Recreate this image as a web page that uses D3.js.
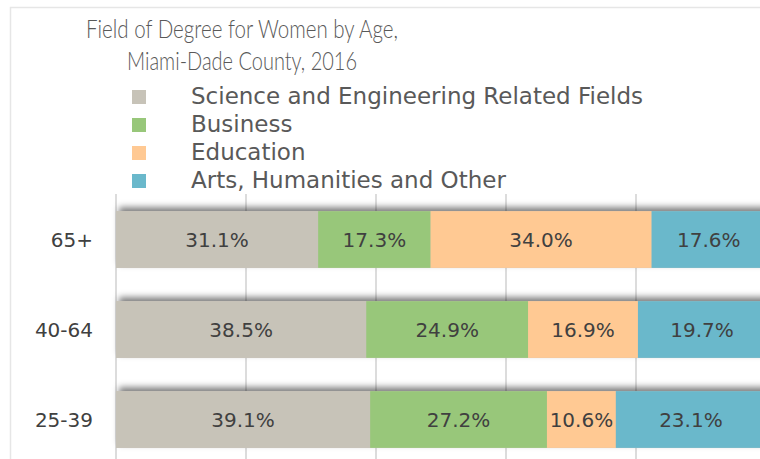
<!DOCTYPE html>
<html>
<head>
<meta charset="utf-8">
<script src="https://cdn.jsdelivr.net/npm/d3@7"></script>
<style>
  body { margin: 0; background: #fff; }
  svg text { font-family: "DejaVu Sans", sans-serif; }
</style>
</head>
<body>
<svg id="grafiek" width="760" height="459"></svg>
<script>
// data
const leeftijden = ["65+", "40-64", "25-39"];
const velden = ["Science and Engineering Related Fields", "Business", "Education", "Arts, Humanities and Other"];
const kleuren = ["#c7c3b8", "#98c77a", "#ffc993", "#6ab8cb"];
const wetenschap = [31.1, 38.5, 39.1];
const business = [17.3, 24.9, 27.2];
const onderwijs = [34.0, 16.9, 10.6];
const kunst = [17.6, 19.7, 23.1];
const gridTicks = [0, 20, 40, 60, 80, 100];
const titel = ["Field of Degree for Women by Age,", "Miami-Dade County, 2016"];
const titelBreedte = [312, 230];

const svg = d3.select("#grafiek");

// rijen bouwen voor de stack
const rijen = leeftijden.map(function (l, i) {
    return { leeftijd: l, 0: wetenschap[i], 1: business[i], 2: onderwijs[i], 3: kunst[i] };
});
const stack = d3.stack().keys([0, 1, 2, 3])(rijen);

//schalen
const x = d3.scaleLinear().domain([0, 100]).range([116, 766]);
const y = d3.scaleBand().domain(leeftijden).range([194.5, 464.5]).paddingInner(0.37).paddingOuter(0.185);

// schaduw filter
const defs = svg.append("defs");
const f = defs.append("filter").attr("id", "schaduw").attr("x", "-5%").attr("y", "-40%").attr("width", "110%").attr("height", "180%");
f.append("feDropShadow").attr("dx", 3).attr("dy", -4).attr("stdDeviation", 3)
    .attr("flood-color", "#000").attr("flood-opacity", 0.5);

// kader
svg.append("rect").attr("x", 10.5).attr("y", 7.5).attr("width", 800).attr("height", 500)
    .attr("fill", "#fff").attr("stroke", "#e6e6e6").attr("stroke-width", 1.5);

// titel (iets samengedrukt zoals het origineel)
svg.append("g").selectAll("text").data(titel).join("text")
    .attr("x", 242).attr("y", function (d, i) { return 38 + i * 32; })
    .attr("text-anchor", "middle").attr("font-size", 26).attr("fill", "#595959")
    .style("font-family", "Lato, 'DejaVu Sans', sans-serif").attr("font-weight", 300)
    .attr("textLength", function (d, i) { return titelBreedte[i]; })
    .attr("lengthAdjust", "spacingAndGlyphs")
    .text(function (d) { return d; });

// legenda
const legenda = svg.append("g");
legenda.selectAll("rect").data(velden).join("rect")
    .attr("x", 132).attr("y", function (d, i) { return 90 + i * 28; })
    .attr("width", 14).attr("height", 14)
    .attr("fill", function (d, i) { return kleuren[i]; });
legenda.selectAll("text").data(velden).join("text")
    .attr("x", 191).attr("y", function (d, i) { return 104 + i * 28; })
    .attr("font-size", 23).attr("fill", "#595959")
    .text(function (d) { return d; });

// rasterlijnen
svg.append("g").selectAll("line").data(gridTicks).join("line")
    .attr("x1", function (d) { return x(d); }).attr("x2", function (d) { return x(d); })
    .attr("y1", 194).attr("y2", 470)
    .attr("stroke", "#d0d0d0").attr("stroke-width", 1.5);

// balken
const balkGroep = svg.append("g");
balkGroep.selectAll("rect.schaduw").data(leeftijden).join("rect")
    .attr("class", "schaduw")
    .attr("x", x(0)).attr("y", function (d) { return y(d); })
    .attr("width", x(100) - x(0)).attr("height", y.bandwidth())
    .attr("fill", "#c7c3b8").attr("filter", "url(#schaduw)");

const lagen = balkGroep.selectAll("g.laag").data(stack).join("g").attr("class", "laag")
    .attr("fill", function (d, i) { return kleuren[i]; });
lagen.selectAll("rect").data(function (d) { return d; }).join("rect")
    .attr("x", function (d) { return x(d[0]); })
    .attr("y", function (d) { return y(d.data.leeftijd); })
    .attr("width", function (d) { return x(d[1]) - x(d[0]); })
    .attr("height", y.bandwidth());

// waarden
lagen.selectAll("text").data(function (d) { return d; }).join("text")
    .attr("x", function (d) { return (x(d[0]) + x(d[1])) / 2; })
    .attr("y", function (d) { return y(d.data.leeftijd) + y.bandwidth() / 2 + 7; })
    .attr("text-anchor", "middle").attr("font-size", 20).attr("fill", "#404040")
    .text(function (d) { return (d[1] - d[0]).toFixed(1) + "%"; });

// as labels
svg.append("g").selectAll("text").data(leeftijden).join("text")
    .attr("x", 93).attr("y", function (d) { return y(d) + y.bandwidth() / 2 + 7; })
    .attr("text-anchor", "end").attr("font-size", 20).attr("fill", "#404040")
    .text(function (d) { return d; });
</script>
</body>
</html>
